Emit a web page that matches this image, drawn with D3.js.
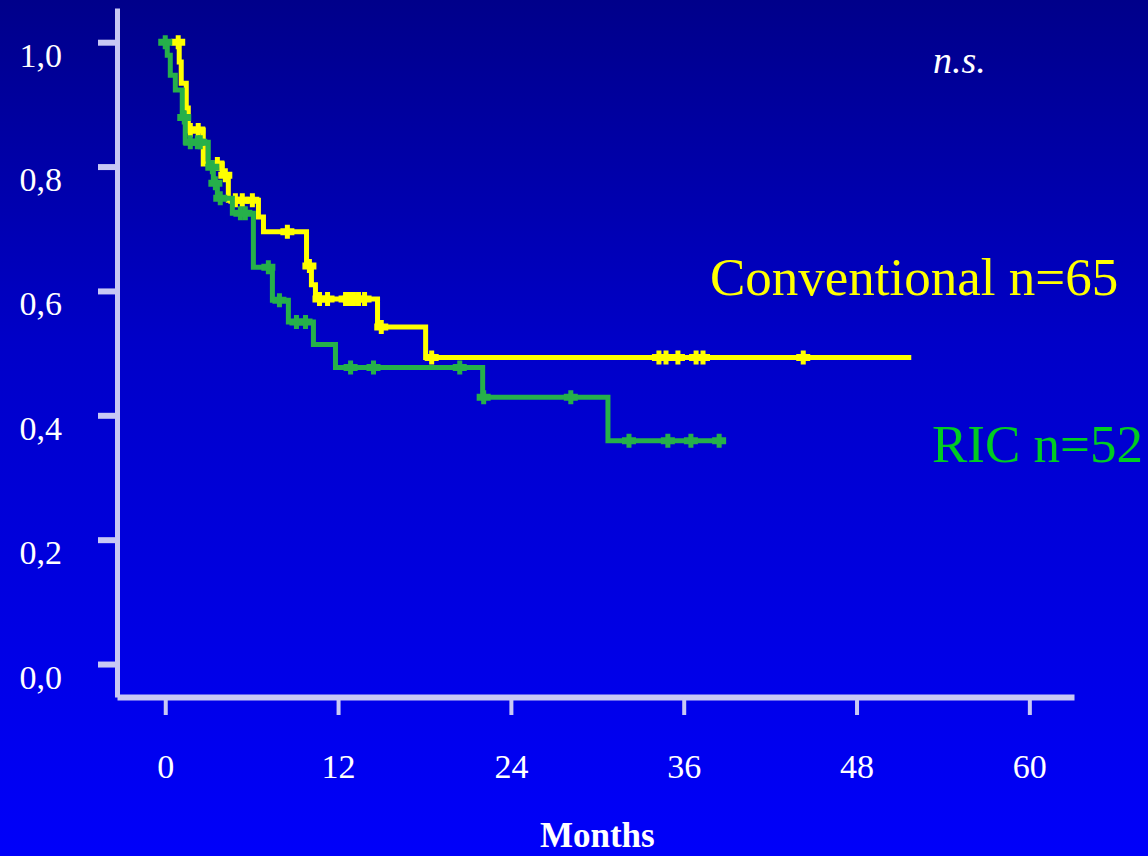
<!DOCTYPE html>
<html>
<head>
<meta charset="utf-8">
<script src="https://cdn.jsdelivr.net/npm/d3@7"></script>
<style>
    body { margin: 0; background: #0000c0; }
    svg { display: block; }
</style>
</head>
<body>
<div id="grafico"></div>
<script>

// Dados (meses, sobrevida)
const eixoX_ticks = [0, 12, 24, 36, 48, 60]
const eixoY_ticks = [0, 0.2, 0.4, 0.6, 0.8, 1.0]

// Conventional n=65 (amarelo)
const convTempos = [0.97, 1.11, 1.46, 1.6, 2.64, 3.96, 4.38, 6.47, 6.82, 9.81, 10.15, 10.43, 14.74, 18.08]
const convSobrev = [0.968, 0.934, 0.894, 0.859, 0.804, 0.786, 0.746, 0.719, 0.695, 0.64, 0.61, 0.587, 0.542, 0.493]
const convCensuras = [0.9, 1.74, 2.29, 3.62, 4.17, 4.87, 5.35, 6.05, 8.48, 10.01, 10.71, 11.27, 12.52, 12.8, 13.07, 13.42, 13.84, 15.0, 18.5, 34.28, 34.77, 35.6, 36.86, 37.34, 44.3]
const convFim = 51.8

// RIC n=52 (verde)
const ricTempos = [0.14, 0.35, 0.70, 1.18, 1.39, 2.99, 3.34, 3.62, 4.66, 6.12, 7.44, 8.55, 10.29, 11.82, 22.04, 30.74]
const ricSobrev = [0.979, 0.947, 0.923, 0.879, 0.839, 0.799, 0.773, 0.749, 0.725, 0.638, 0.585, 0.55, 0.514, 0.477, 0.429, 0.359]
const ricCensuras = [0, 1.32, 1.74, 2.23, 2.43, 3.27, 3.48, 3.82, 5.22, 5.56, 7.16, 7.93, 9.11, 9.74, 12.87, 14.46, 20.45, 22.11, 28.16, 32.2, 34.9, 36.5, 38.46]
const ricFim = 38.8


// Configurações do gráfico
const width = 1148
const height = 856
const fonte = '"Liberation Serif", "Times New Roman", serif'
const corEixo = '#c8c8f4'

// Criação do SVG
let svg = d3.select('#grafico').append('svg')
    .attr('width', width)
    .attr('height', height)

// Fundo em degradê azul
let grad = svg.append('defs').append('linearGradient')
    .attr('id', 'fundo')
    .attr('x1', 0).attr('y1', 0).attr('x2', 0).attr('y2', 1)
grad.append('stop').attr('offset', '0%').attr('stop-color', '#00008a')
grad.append('stop').attr('offset', '40%').attr('stop-color', '#0000c8')
grad.append('stop').attr('offset', '100%').attr('stop-color', '#0000fa')

svg.append('rect')
    .attr('width', width)
    .attr('height', height)
    .attr('fill', 'url(#fundo)')

// Escalas (o domínio vai um pouco além dos ticks, como no original)
let x = d3.scaleLinear().domain([-3.35, 63.1]).range([117, 1074])
let y = d3.scaleLinear().domain([-0.053, 1.055]).range([697, 8])

// Eixo Y
let eixoY = svg.append('g')
    .attr('transform', `translate(${x(-3.35)}, 0)`)
    .call(d3.axisLeft(y)
        .tickValues(eixoY_ticks)
        .tickSize(19)
        .tickSizeOuter(0)
        .tickFormat(d => d3.format('.1f')(d).replace('.', ',')))

eixoY.select('.domain').attr('stroke', corEixo).attr('stroke-width', 5)
eixoY.selectAll('.tick line').attr('stroke', corEixo).attr('stroke-width', 6)
eixoY.selectAll('.tick text')
    .attr('x', -55)
    .attr('dy', 24)
    .attr('fill', 'white')
    .style('font-family', fonte)
    .style('font-size', '34px')

// Eixo X
let eixoX = svg.append('g')
    .attr('transform', `translate(0, ${y(-0.053)})`)
    .call(d3.axisBottom(x)
        .tickValues(eixoX_ticks)
        .tickSize(18)
        .tickSizeOuter(0))

eixoX.select('.domain').attr('stroke', corEixo).attr('stroke-width', 6)
eixoX.selectAll('.tick line').attr('stroke', corEixo).attr('stroke-width', 4)
eixoX.selectAll('.tick text')
    .attr('y', 81)
    .attr('dy', 0)
    .attr('fill', 'white')
    .style('font-family', fonte)
    .style('font-size', '34px')

// Título do eixo x
svg.append('text')
    .attr('x', x(30))
    .attr('y', 847)
    .attr('text-anchor', 'middle')
    .attr('fill', 'white')
    .style('font-family', fonte)
    .style('font-size', '35px')
    .style('font-weight', 'bold')
    .text('Months')


// Sobrevida no tempo t (função escada)
function sobrevidaEm(tempos, sobrev, t) {
    const i = d3.bisectRight(tempos, t)
    return i === 0 ? 1 : sobrev[i - 1]
}

// Linha em degraus
let linha = d3.line()
    .x(d => x(d[0]))
    .y(d => y(d[1]))
    .curve(d3.curveStepAfter)

// Cruz da censura: barra horizontal larga e vertical fina
const cruz = 'M-7,-3.5H-2.5V-7H2.5V-3.5H7V3.5H2.5V7H-2.5V3.5H-7Z'

function desenharCurva(tempos, sobrev, censuras, fim, cor) {

    const pontos = [[0, 1]]
    tempos.forEach((t, i) => pontos.push([t, sobrev[i]]))
    pontos.push([fim, sobrev[sobrev.length - 1]])

    svg.append('path')
        .datum(pontos)
        .attr('d', linha)
        .attr('fill', 'none')
        .attr('stroke', cor)
        .attr('stroke-width', 5)

    // Marcas de censura
    svg.append('g').selectAll('path')
        .data(censuras)
        .join('path')
        .attr('transform', d => `translate(${x(d)}, ${y(sobrevidaEm(tempos, sobrev, d))})`)
        .attr('d', cruz)
        .attr('fill', cor)
}

desenharCurva(convTempos, convSobrev, convCensuras, convFim, '#ffff00')
desenharCurva(ricTempos, ricSobrev, ricCensuras, ricFim, '#26b04a')


// Legendas
svg.append('text')
    .attr('x', 710)
    .attr('y', 295)
    .attr('fill', '#ffff00')
    .style('font-family', fonte)
    .style('font-size', '53px')
    .text('Conventional n=65')

svg.append('text')
    .attr('x', 932)
    .attr('y', 462)
    .attr('fill', '#00cc22')
    .style('font-family', fonte)
    .style('font-size', '53px')
    .text('RIC n=52')

svg.append('text')
    .attr('x', 933)
    .attr('y', 73)
    .attr('fill', 'white')
    .style('font-family', fonte)
    .style('font-size', '38px')
    .style('font-style', 'italic')
    .text('n.s.')

</script>
</body>
</html>
